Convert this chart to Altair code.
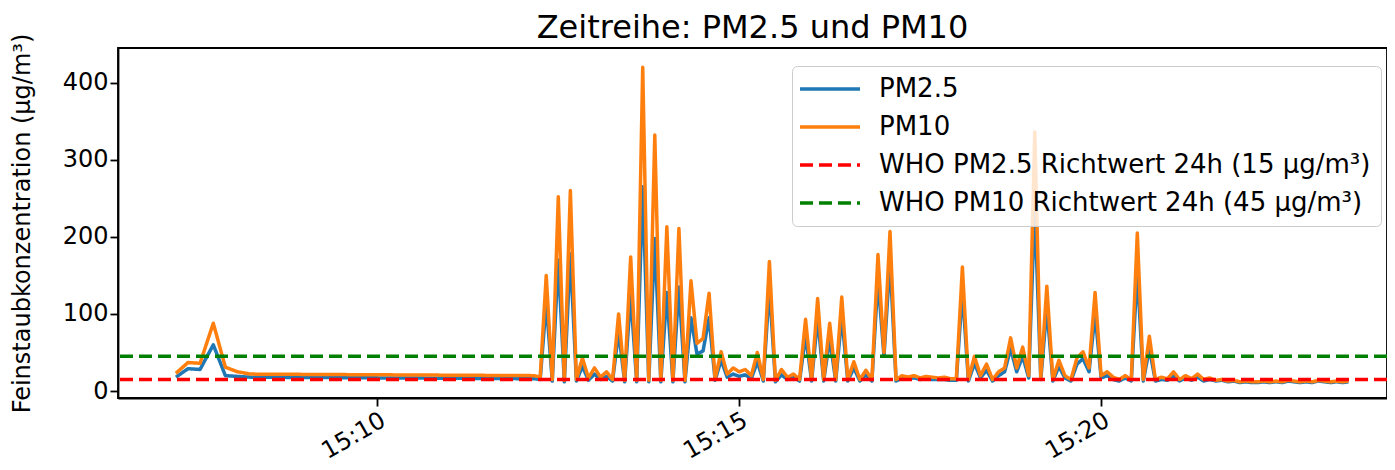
import altair as alt
import pandas as pd

DAY = "2024-01-01"

# early samples (sparse)
early_times = ["15:07:13", "15:07:23", "15:07:33", "15:07:44", "15:07:54", "15:08:04", "15:08:15"]
early_pm25 = [18, 29, 28, 60, 20, 19, 18]
early_pm10 = [23, 37, 36, 88, 31, 25, 22]

# dense samples every 5 s from 15:12:10
dense_start = "15:12:10"
dense_pm10 = [20, 18, 150, 15, 252, 14, 260, 15, 43, 17,
              30, 18, 25, 15, 100, 14, 174, 14, 420, 14,
              332, 14, 213, 14, 211, 14, 143, 62, 68, 127,
              16, 51, 22, 30, 25, 28, 20, 50, 15, 168,
              14, 28, 18, 22, 15, 93, 15, 120, 15, 88,
              15, 122, 15, 38, 15, 27, 15, 177, 50, 207,
              15, 20, 18, 20, 17, 19, 18, 17, 18, 16,
              16, 161, 15, 45, 20, 35, 15, 25, 30, 69,
              30, 57, 20, 336, 18, 136, 15, 40, 20, 15,
              43, 51, 30, 128, 20, 25, 18, 15, 20, 15,
              205, 15, 71, 15, 18, 16, 25, 15, 20, 16,
              22, 15, 17, 14, 15, 13, 14, 12, 13, 12,
              12, 13, 12, 13, 12, 14, 13, 12, 13, 12,
              14, 13, 12, 13, 12, 13]
dense_pm25 = [16, 15, 115, 13, 170, 12, 178, 13, 32, 14,
              22, 15, 19, 13, 77, 12, 125, 12, 265, 12,
              198, 12, 128, 12, 135, 12, 95, 48, 52, 95,
              14, 40, 18, 22, 19, 21, 16, 38, 13, 135,
              12, 21, 15, 18, 13, 72, 13, 95, 13, 68,
              13, 97, 13, 30, 13, 21, 13, 145, 45, 170,
              13, 17, 16, 17, 15, 16, 15, 15, 15, 14,
              14, 130, 13, 36, 17, 27, 13, 20, 25, 55,
              25, 45, 17, 240, 15, 108, 13, 32, 17, 13,
              35, 42, 25, 100, 17, 20, 15, 13, 17, 13,
              155, 13, 55, 13, 15, 14, 20, 13, 17, 14,
              18, 13, 15, 13, 14, 12, 13, 11, 12, 11,
              11, 12, 11, 12, 11, 13, 12, 11, 12, 11,
              13, 12, 11, 12, 11, 12]

series_names = ["PM2.5", "PM10",
                "WHO PM2.5 Richtwert 24h (15 µg/m³)",
                "WHO PM10 Richtwert 24h (45 µg/m³)"]
series_colors = ["#1f77b4", "#ff7f0e", "#ff0000", "#008000"]
who_values = [15, 45]

tick_times = ["15:10", "15:15", "15:20"]
y_ticks = [0, 100, 200, 300, 400]

# build tables
early_ts = [f"{DAY}T{t}" for t in early_times]
dense_ts = list(pd.date_range(f"{DAY} {dense_start}", periods=len(dense_pm10), freq="5s")
                .strftime("%Y-%m-%dT%H:%M:%S"))
all_ts = early_ts + dense_ts
pm25 = early_pm25 + dense_pm25
pm10 = early_pm10 + dense_pm10

df25 = pd.DataFrame({"t": all_ts, "value": pm25, "Serie": series_names[0]})
df10 = pd.DataFrame({"t": all_ts, "value": pm10, "Serie": series_names[1]})
df_who = pd.DataFrame({"value": who_values, "Serie": series_names[2:]})

dashes = [[1, 0], [1, 0], [13, 6], [13, 6]]

leg = alt.Legend(title=None, orient="none", legendX=674, legendY=18)
color = alt.Color("Serie:N", scale=alt.Scale(domain=series_names, range=series_colors), legend=leg)
dash = alt.StrokeDash("Serie:N", scale=alt.Scale(domain=series_names, range=dashes), legend=leg)


def dt(h, m, s=0):
    return alt.DateTime(year=2024, month=1, date=1, hours=h, minutes=m, seconds=s)


x_enc = alt.X("t:T",
              scale=alt.Scale(domain=[dt(15, 6, 25), dt(15, 23, 57)]),
              axis=alt.Axis(values=[dt(15, int(t[3:])) for t in tick_times], format="%H:%M",
                            labelAngle=-30, labelAlign="right", labelBaseline="top",
                            labelPadding=2, title=None))
y_enc = alt.Y("value:Q",
              scale=alt.Scale(domain=[-9, 445], nice=False, zero=False),
              axis=alt.Axis(values=y_ticks, title="Feinstaubkonzentration (µg/m³)",
                            titlePadding=28))

l25 = alt.Chart(df25).mark_line(strokeWidth=3.5, strokeJoin="round").encode(
    x=x_enc, y=y_enc, color=color, strokeDash=dash)
l10 = alt.Chart(df10).mark_line(strokeWidth=3.5, strokeJoin="round").encode(
    x=x_enc, y=y_enc, color=color, strokeDash=dash)
rules = alt.Chart(df_who).mark_rule(strokeWidth=3.5).encode(
    y=alt.Y("value:Q"), color=color, strokeDash=dash)

chart = alt.layer(l25, l10, rules).properties(
    width=1269, height=350,
    title=alt.TitleParams("Zeitreihe: PM2.5 und PM10", fontSize=32, font="DejaVu Sans",
                          fontWeight="normal", color="black", offset=-12),
    autosize=alt.AutoSizeParams(type="none"),
    padding={"left": 110, "top": 40, "right": 0, "bottom": 72},
).configure_view(
    stroke="black", strokeWidth=1.8
).configure_axis(
    labelFont="DejaVu Sans", titleFont="DejaVu Sans", labelFontSize=24, titleFontSize=24,
    titleFontWeight="normal", labelColor="black", titleColor="black",
    domainColor="black", domainWidth=1.8, tickColor="black", tickWidth=1.8, tickSize=8,
    grid=False
).configure_legend(
    symbolType="M-2,0H6", symbolSize=225, symbolStrokeWidth=3.5,
    labelFont="DejaVu Sans", labelFontSize=26, labelColor="black", labelLimit=0,
    fillColor="rgba(255,255,255,0.8)", strokeColor="#cccccc", cornerRadius=5,
    padding=10, rowPadding=12, labelOffset=51
)

chart.save("out.html", embed_options={"renderer": "svg", "actions": False})
